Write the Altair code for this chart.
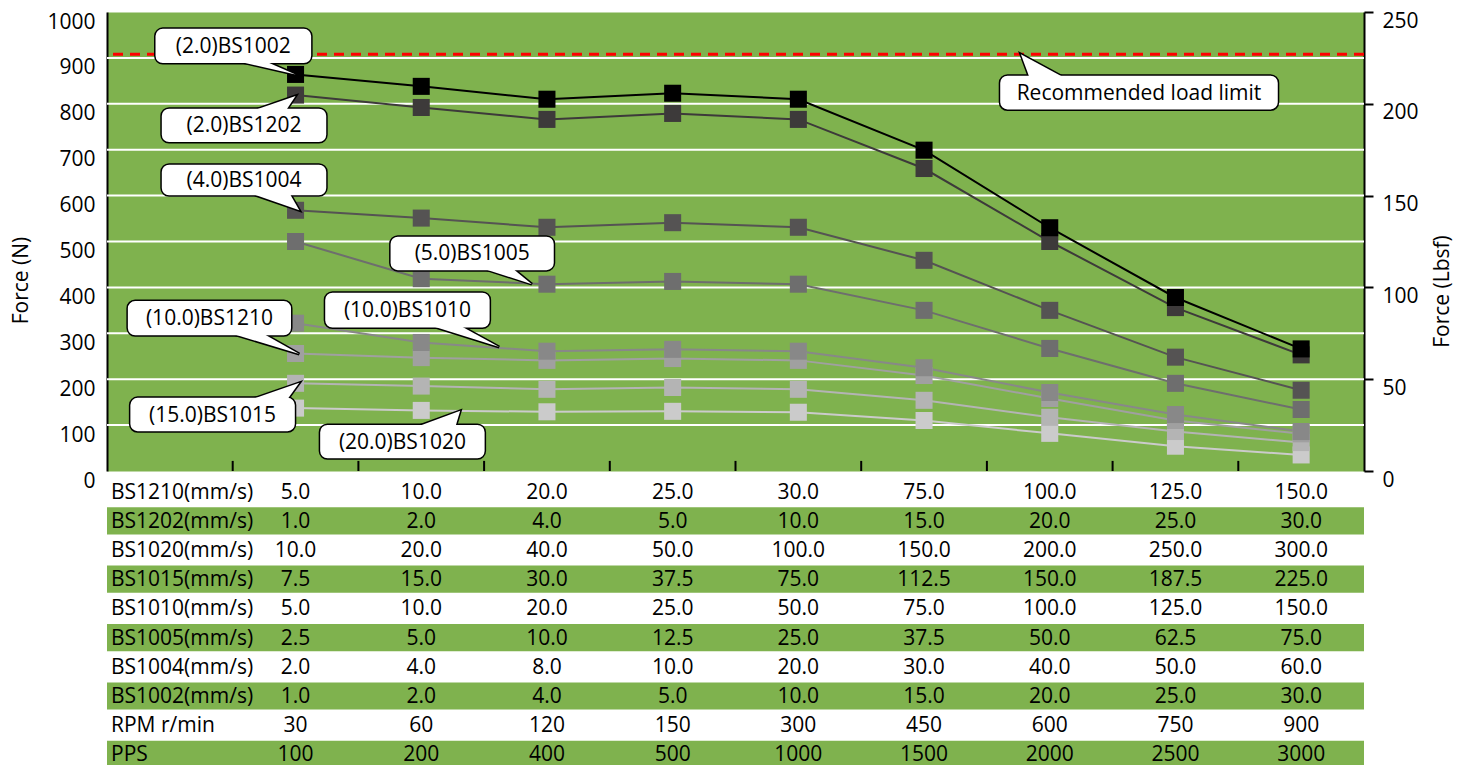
import altair as alt
import pandas as pd

# ---------------- data ----------------
series = ["BS1002", "BS1202", "BS1004", "BS1005", "BS1010", "BS1210", "BS1015", "BS1020"]
series_colors = ["#000000", "#3d3a3a", "#555353", "#6e6e6e",
                 "#888888", "#a0a0a0", "#b4b4b4", "#cbcbcb"]

bs1002 = [864, 838, 810, 823, 810, 699, 530, 378, 266]
bs1202 = [819, 792, 766, 779, 766, 659, 500, 356, 253]
bs1004 = [568, 551, 531, 541, 531, 459, 350, 248, 176]
bs1005 = [500, 419, 407, 413, 407, 350, 267, 191, 134]
bs1010 = [322, 280, 261, 265, 261, 225, 171, 123, 86]
bs1210 = [256, 247, 241, 245, 241, 208, 158, 110, 81]
bs1015 = [191, 185, 178, 182, 178, 154, 117, 86, 62]
bs1020 = [137, 132, 129, 130, 128, 110, 82, 54, 35]
series_values = [bs1002, bs1202, bs1004, bs1005, bs1010, bs1210, bs1015, bs1020]

load_limit = 908          # N
n_to_lbf = 4              # right axis: 1000 N shown as 250 Lbsf

# table below the chart
row_labels = ["BS1210(mm/s)", "BS1202(mm/s)", "BS1020(mm/s)", "BS1015(mm/s)",
              "BS1010(mm/s)", "BS1005(mm/s)", "BS1004(mm/s)", "BS1002(mm/s)",
              "RPM r/min", "PPS"]
row_bs1210 = [5.0, 10.0, 20.0, 25.0, 30.0, 75.0, 100.0, 125.0, 150.0]
row_bs1202 = [1.0, 2.0, 4.0, 5.0, 10.0, 15.0, 20.0, 25.0, 30.0]
row_bs1020 = [10.0, 20.0, 40.0, 50.0, 100.0, 150.0, 200.0, 250.0, 300.0]
row_bs1015 = [7.5, 15.0, 30.0, 37.5, 75.0, 112.5, 150.0, 187.5, 225.0]
row_bs1010 = [5.0, 10.0, 20.0, 25.0, 50.0, 75.0, 100.0, 125.0, 150.0]
row_bs1005 = [2.5, 5.0, 10.0, 12.5, 25.0, 37.5, 50.0, 62.5, 75.0]
row_bs1004 = [2.0, 4.0, 8.0, 10.0, 20.0, 30.0, 40.0, 50.0, 60.0]
row_bs1002 = [1.0, 2.0, 4.0, 5.0, 10.0, 15.0, 20.0, 25.0, 30.0]
row_rpm = [30, 60, 120, 150, 300, 450, 600, 750, 900]
row_pps = [100, 200, 400, 500, 1000, 1500, 2000, 2500, 3000]
table_rows = [row_bs1210, row_bs1202, row_bs1020, row_bs1015, row_bs1010,
              row_bs1005, row_bs1004, row_bs1002, row_rpm, row_pps]

# callout annotations (data coordinates: x in category slots, y in N)
# label, box x-range, box y-range, pointer base x-range, tip (x, y)
callouts = [
    ("(2.0)BS1002", (0.38, 1.63), (887, 965), (1.02, 1.25), (1.50, 864)),
    ("(2.0)BS1202", (0.43, 1.75), (715, 791), (1.15, 1.42), (1.50, 817)),
    ("(4.0)BS1004", (0.43, 1.75), (599, 669), (1.13, 1.45), (1.53, 568)),
    ("(5.0)BS1005", (2.25, 3.56), (436, 512), (2.97, 3.22), (3.38, 407)),
    ("(10.0)BS1210", (0.16, 1.47), (294, 372), (0.97, 1.23), (1.53, 255)),
    ("(10.0)BS1010", (1.73, 3.05), (311, 390), (2.56, 2.80), (3.12, 270)),
    ("(15.0)BS1015", (0.18, 1.50), (85, 161), (1.13, 1.43), (1.53, 192)),
    ("(20.0)BS1020", (1.69, 3.01), (26, 102), (2.45, 2.77), (2.81, 131)),
    ("Recommended load limit", (7.10, 9.32), (786, 863), (7.34, 7.62), (7.27, 908)),
]

GREEN = "#7fb24e"
FONT = "Open Sans"
FS = 21
N_SLOTS = len(row_bs1210) + 1   # first slot holds the table's row labels

# ---------------- frames ----------------
recs = []
for si, (name, vals) in enumerate(zip(series, series_values)):
    for i, v in enumerate(vals):
        recs.append({"series": name, "x": i + 1.5, "value": v,
                     "draw": len(series) - si})
df = pd.DataFrame(recs)

grid_df = pd.DataFrame({"g": list(range(100, 1000, 100))})
tick_df = pd.DataFrame({"x": list(range(1, N_SLOTS)), "t0": 0, "t1": 22})
limit_df = pd.DataFrame({"limit": [load_limit]})

box_recs, ptr_recs = [], []
ext = 7  # N, pointer base pushed slightly inside the box
for k, (lab, (bx1, bx2), (by1, by2), (pa, pb), (tx, ty)) in enumerate(callouts):
    box_recs.append({"label": lab, "bx1": bx1, "bx2": bx2, "by1": by1, "by2": by2,
                     "cx": (bx1 + bx2) / 2, "cy": (by1 + by2) / 2})
    if ty < by1:
        base_y = by1 + ext
    else:
        base_y = by2 - ext
    ptr_recs.append({"id": k, "py": base_y, "pa": pa, "pb": pb})
    ptr_recs.append({"id": k, "py": ty, "pa": tx, "pb": tx})
box_df = pd.DataFrame(box_recs)
ptr_df = pd.DataFrame(ptr_recs)

xscale = alt.Scale(domain=[0, N_SLOTS], nice=False, zero=False)
yscale = alt.Scale(domain=[0, 1000], nice=False)
color_scale = alt.Scale(domain=series, range=series_colors)

# ---------------- plot layers ----------------
grid = alt.Chart(grid_df).mark_rule(color="white", strokeWidth=2).encode(
    y=alt.Y("g:Q", scale=yscale, axis=None)
)

limit_rule = alt.Chart(limit_df).mark_rule(
    color="#ff0000", strokeWidth=3, strokeDash=[10, 7]
).encode(
    y=alt.Y("limit:Q", scale=yscale, axis=alt.Axis(
        orient="right", values=[0, 200, 400, 600, 800, 1000],
        labelExpr=f"format(datum.value/{n_to_lbf}, 'd')",
        title="Force (Lbsf)", grid=False, ticks=True, tickSize=9, tickWidth=2,
        tickColor="black", domainColor="black", domainWidth=2,
        labelPadding=9, labelOffset=9, labelFont=FONT, labelFontSize=FS,
        labelColor="black", titleFont=FONT, titleFontSize=FS,
        titleFontWeight="normal", titleColor="black", titleAngle=270,
        titleX=78, titleY=279, titleAlign="center", titleBaseline="middle"))
)

lines = alt.Chart(df).mark_line(strokeWidth=2).encode(
    x=alt.X("x:Q", scale=xscale, axis=alt.Axis(
        values=[], labels=False, ticks=False, grid=False, title=None,
        domainColor="black", domainWidth=2.5)),
    y=alt.Y("value:Q", scale=yscale, axis=alt.Axis(
        orient="left", values=list(range(0, 1001, 100)), format="d", grid=False,
        ticks=False, domainColor="black", domainWidth=2, labelPadding=12,
        labelOffset=10, labelFont=FONT, labelFontSize=FS, labelColor="black",
        title="Force (N)", titleFont=FONT, titleFontSize=FS,
        titleFontWeight="normal", titleColor="black", titleAngle=270,
        titleX=-86, titleY=268, titleAlign="center", titleBaseline="middle")),
    color=alt.Color("series:N", scale=color_scale, legend=None),
    order=alt.Order("draw:Q"),
)

squares = alt.Chart(df).mark_square(size=290, opacity=1, filled=True).encode(
    x=alt.X("x:Q", scale=xscale, axis=None),
    y=alt.Y("value:Q", scale=yscale, axis=None),
    color=alt.Color("series:N", scale=color_scale, legend=None),
    order=alt.Order("draw:Q"),
)

inner_ticks = alt.Chart(tick_df).mark_rule(color="black", strokeWidth=2).encode(
    x=alt.X("x:Q", scale=xscale, axis=None),
    y=alt.Y("t0:Q", scale=yscale, axis=None),
    y2="t1:Q",
)

ptr_enc = dict(
    y=alt.Y("py:Q", scale=yscale, axis=None),
    x=alt.X("pa:Q", scale=xscale, axis=None),
    x2="pb:Q",
    detail="id:N",
)
ptr_outline = alt.Chart(ptr_df).mark_area(
    orient="horizontal", fill="white", stroke="black", strokeWidth=3
).encode(**ptr_enc)
ptr_fill = alt.Chart(ptr_df).mark_area(
    orient="horizontal", fill="white", strokeWidth=0
).encode(**ptr_enc)

boxes = alt.Chart(box_df).mark_rect(
    fill="white", stroke="black", strokeWidth=1.5, cornerRadius=8
).encode(
    x=alt.X("bx1:Q", scale=xscale, axis=None), x2="bx2:Q",
    y=alt.Y("by1:Q", scale=yscale, axis=None), y2="by2:Q",
)

box_text = alt.Chart(box_df).mark_text(
    font=FONT, fontSize=FS, color="black", dy=1
).encode(
    x=alt.X("cx:Q", scale=xscale, axis=None),
    y=alt.Y("cy:Q", scale=yscale, axis=None),
    text="label:N",
)

plot = alt.layer(
    grid, limit_rule, lines, squares, inner_ticks,
    ptr_outline, boxes, ptr_fill, box_text
).resolve_axis(y="independent").properties(
    width=1257, height=459,
    view=alt.ViewBackground(fill=GREEN, stroke="transparent"),
)

# ---------------- table ----------------
cell_recs, stripe_recs = [], []
for r, (lab, vals) in enumerate(zip(row_labels, table_rows)):
    cell_recs.append({"row": lab, "x": 0.0, "txt": lab, "kind": "label"})
    for i, v in enumerate(vals):
        txt = f"{v:.1f}" if isinstance(v, float) else f"{v}"
        cell_recs.append({"row": lab, "x": i + 1.5, "txt": txt, "kind": "value"})
    if r % 2 == 1:
        stripe_recs.append({"row": lab, "x0": 0, "x1": N_SLOTS})
cells = pd.DataFrame(cell_recs)
stripes_df = pd.DataFrame(stripe_recs)

yrow = alt.Scale(domain=row_labels, paddingInner=0.07, paddingOuter=0.035)

stripes = alt.Chart(stripes_df).mark_rect(color=GREEN).encode(
    x=alt.X("x0:Q", scale=xscale, axis=None), x2="x1:Q",
    y=alt.Y("row:N", scale=yrow, axis=None),
)
label_text = alt.Chart(cells).transform_filter(
    alt.datum.kind == "label"
).mark_text(font=FONT, fontSize=FS, color="black", align="left", dx=4, dy=1).encode(
    x=alt.X("x:Q", scale=xscale, axis=None),
    y=alt.Y("row:N", scale=yrow, axis=None),
    text="txt:N",
)
value_text = alt.Chart(cells).transform_filter(
    alt.datum.kind == "value"
).mark_text(font=FONT, fontSize=FS, color="black", align="center", dy=1).encode(
    x=alt.X("x:Q", scale=xscale, axis=None),
    y=alt.Y("row:N", scale=yrow, axis=None),
    text="txt:N",
)
table = alt.layer(stripes, label_text, value_text).properties(
    width=1257, height=292,
    view=alt.ViewBackground(stroke="transparent"),
)

chart = alt.vconcat(plot, table, spacing=6, bounds="flush").properties(
    padding={"left": 1, "top": 1, "right": 0, "bottom": 0},
    background="white",
).configure(font=FONT)

chart.save("out.html", embed_options={"renderer": "svg", "actions": False})
